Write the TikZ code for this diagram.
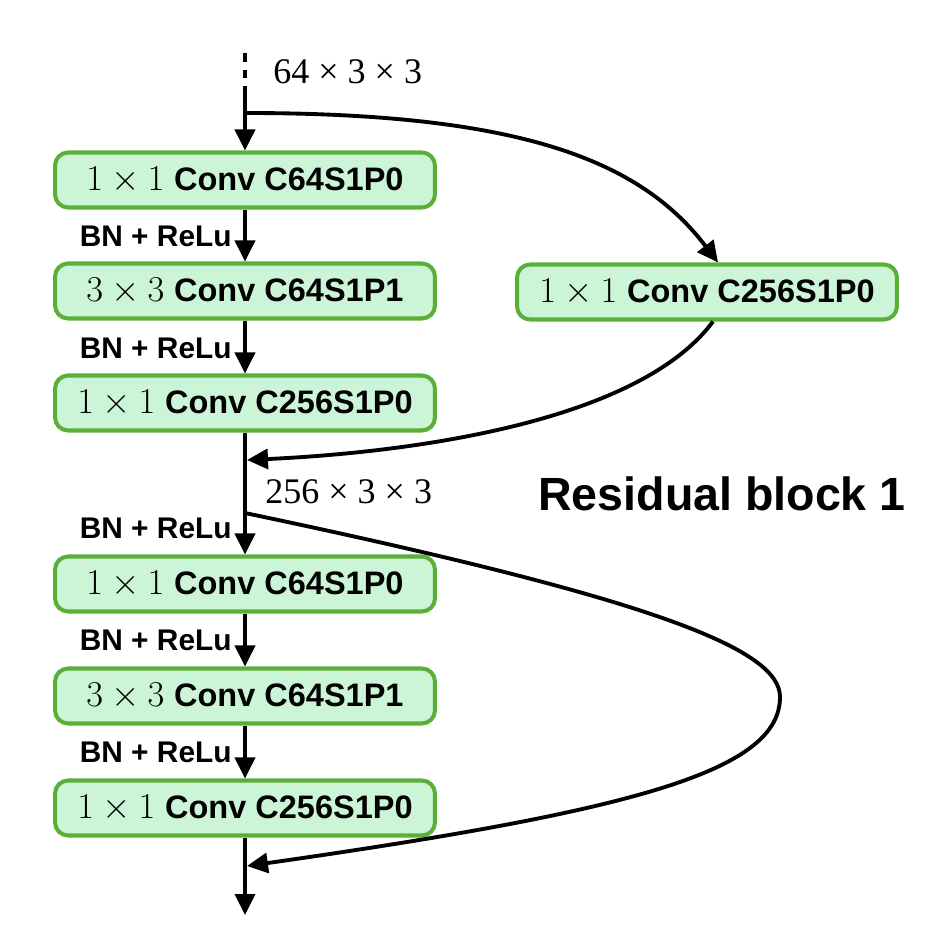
\documentclass[tikz,border=0pt]{standalone}
\usepackage{fontspec}
\setsansfont{Liberation Sans}
\newfontfamily\timesf{Liberation Serif}
\usetikzlibrary{arrows.meta}
\definecolor{boxfill}{HTML}{CCF5D8}
\definecolor{boxdraw}{HTML}{5AAF38}
\tikzset{
  convbox/.style={draw=boxdraw, fill=boxfill, line width=2.3pt, rounded corners=0.26cm,
    minimum width=7.6cm, minimum height=1.1cm, inner sep=0pt,
    font=\fontsize{18.5}{22}\selectfont},
  flow/.style={line width=2.2pt, -{Triangle[length=0.42cm,width=0.4cm]}},
  plain/.style={line width=2.2pt},
  bnlabel/.style={anchor=east, font=\sffamily\bfseries\fontsize{17}{20}\selectfont, inner sep=0pt},
  dimlabel/.style={anchor=west, font=\timesf\fontsize{20.5}{24}\selectfont, inner sep=0pt},
}
\newcommand{\conv}[2]{{\fontsize{22}{24}\selectfont$#1$} {\sffamily\bfseries Conv #2}}
\begin{document}
\begin{tikzpicture}[x=0.02cm,y=-0.02cm]
\useasboundingbox (0,0) rectangle (941,935);
% boxes
\node[convbox] (b1) at (245,180) {\conv{1\times 1}{C64S1P0}};
\node[convbox] (b2) at (245,291) {\conv{3\times 3}{C64S1P1}};
\node[convbox] (b3) at (245,403) {\conv{1\times 1}{C256S1P0}};
\node[convbox] (r1) at (707,292) {\conv{1\times 1}{C256S1P0}};
\node[convbox] (b4) at (245,584) {\conv{1\times 1}{C64S1P0}};
\node[convbox] (b5) at (245,696) {\conv{3\times 3}{C64S1P1}};
\node[convbox] (b6) at (245,808) {\conv{1\times 1}{C256S1P0}};
% coordinates
\coordinate (top) at (245,53);
\coordinate (dend) at (245,93);
\coordinate (s1) at (245,113);
\coordinate (m1) at (247,460);
\coordinate (s2) at (245,513);
\coordinate (m2) at (247,866);
\coordinate (bot) at (245,915);
% main line
\draw[plain, dash pattern=on 5pt off 4.5pt] (top) -- (dend);
\draw[flow] (dend) -- (b1.north);
\draw[flow] (b1) -- (b2);
\draw[flow] (b2) -- (b3);
\draw[flow] (b3.south) -- (b4.north);
\draw[flow] (b4) -- (b5);
\draw[flow] (b5) -- (b6);
\draw[flow] (b6.south) -- (bot);
% skip connections
\draw[flow] (s1) .. controls (520,113) and (640,160) .. (r1.north -| 718,0);
\draw[flow] (r1.south -| 713,0) .. controls (640,420) and (420,452) .. (m1);
\draw[flow] (s2) .. controls (660,600) and (780,650) .. (780,697)
  .. controls (780,770) and (640,810) .. (m2);
% labels
\node[dimlabel] (d1) at (273,72) {64 × 3 × 3};
\node[dimlabel] (d2) at (265,492) {256 × 3 × 3};
\node[bnlabel] (n1) at (232,236) {BN + ReLu};
\node[bnlabel] (n2) at (232,348) {BN + ReLu};
\node[bnlabel] (n3) at (232,528) {BN + ReLu};
\node[bnlabel] (n4) at (232,640) {BN + ReLu};
\node[bnlabel] (n5) at (232,752) {BN + ReLu};
\node[font=\sffamily\bfseries\fontsize{26.5}{30}\selectfont, inner sep=0pt] (title) at (722,494) {Residual block 1};
\end{tikzpicture}
\end{document}
